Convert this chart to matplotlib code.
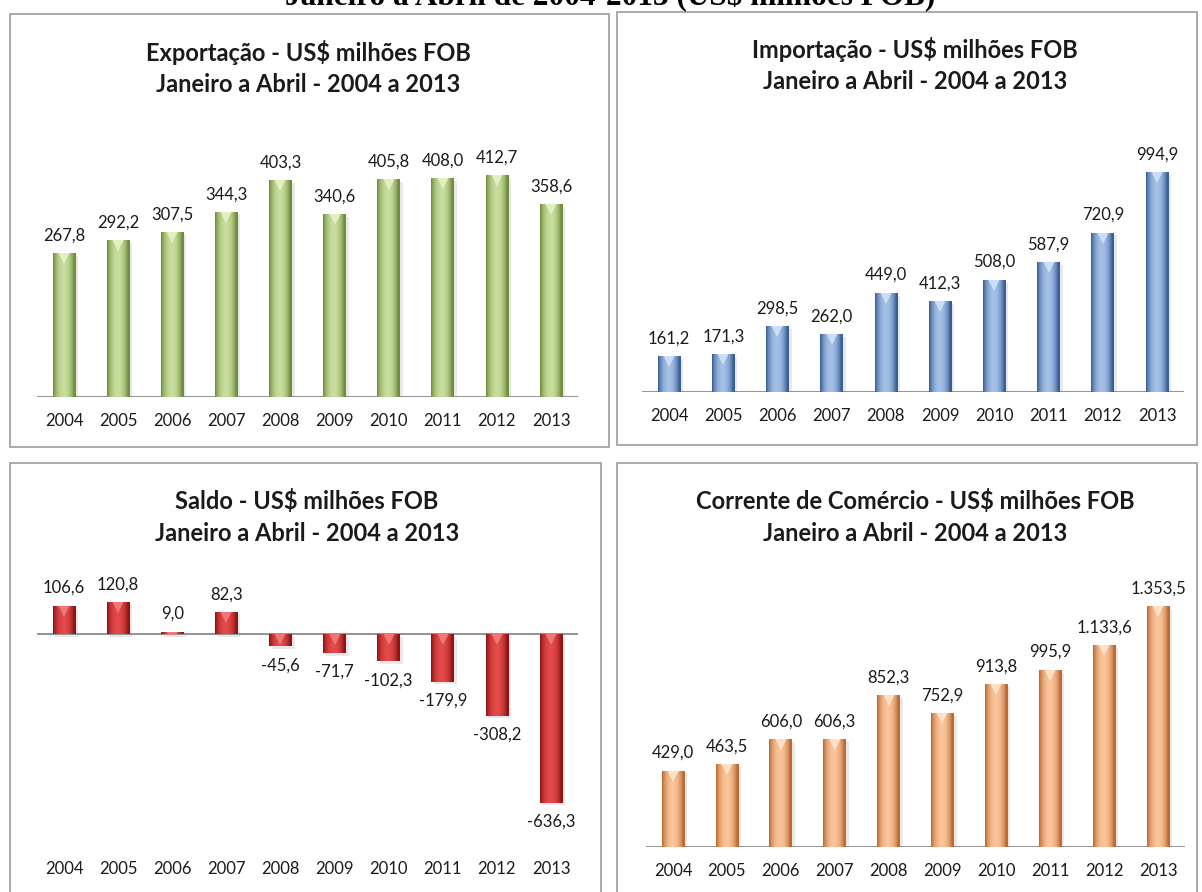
import numpy as np
import matplotlib
matplotlib.use("Agg")
import matplotlib.pyplot as plt
import matplotlib.patheffects as pe
from matplotlib.patches import Rectangle
from matplotlib.transforms import ScaledTranslation
from matplotlib.colors import to_rgb

W, H = 1202, 892
DPI = 100

years = ["2004", "2005", "2006", "2007", "2008", "2009", "2010", "2011", "2012", "2013"]
exportacao = [267.8, 292.2, 307.5, 344.3, 403.3, 340.6, 405.8, 408.0, 412.7, 358.6]
importacao = [161.2, 171.3, 298.5, 262.0, 449.0, 412.3, 508.0, 587.9, 720.9, 994.9]
saldo = [106.6, 120.8, 9.0, 82.3, -45.6, -71.7, -102.3, -179.9, -308.2, -636.3]
corrente = [429.0, 463.5, 606.0, 606.3, 852.3, 752.9, 913.8, 995.9, 1133.6, 1353.5]

titles = [
    "Exportação - US$ milhões FOB\nJaneiro a Abril - 2004 a 2013",
    "Importação - US$ milhões FOB\nJaneiro a Abril - 2004 a 2013",
    "Saldo - US$ milhões FOB\nJaneiro a Abril - 2004 a 2013",
    "Corrente de Comércio - US$ milhões FOB\nJaneiro a Abril - 2004 a 2013",
]
main_title = "Janeiro a Abril de 2004-2013 (US$ milhões FOB)"

FONT = "Lato"


def fmt(v):
    s = f"{abs(v):,.1f}"
    s = s.replace(",", "X").replace(".", ",").replace("X", ".")
    return ("-" if v < 0 else "") + s


fig = plt.figure(figsize=(W / DPI, H / DPI), dpi=DPI)
fig.patch.set_facecolor("white")


def fx(px):
    return px / W


def fy(py):
    return 1 - py / H


def panel(rect, title, title_x, title_y, c0, c9, base_y, scale, bottom_y, top_y,
          values, dark, light, tri):
    x0, y0, x1, y1 = rect
    fig.add_artist(Rectangle((fx(x0), fy(y1)), fx(x1 - x0), (y1 - y0) / H,
                             transform=fig.transFigure, fill=False,
                             ec="#9c9c9c", lw=1.2))
    fig.text(fx(title_x), fy(title_y), title, ha="center",
             va="center", fontsize=17, fontweight="bold", family=FONT,
             color="#1a1a1a", linespacing=1.45)
    s = (c9 - c0) / 9
    left = c0 - s / 2
    right = c9 + s / 2
    ax = fig.add_axes([fx(left), fy(bottom_y), fx(right - left),
                       (bottom_y - top_y) / H])
    ymin = -(bottom_y - base_y) / scale
    ymax = (base_y - top_y) / scale
    ax.set_axis_off()
    x = np.arange(len(values))
    bw = 0.42
    bars = ax.bar(x, values, width=bw, color=dark, zorder=2,
                  path_effects=[pe.SimplePatchShadow(offset=(2, -2),
                                                     shadow_rgbFace="#999999",
                                                     alpha=0.22),
                                pe.Normal()])
    # cylindrical gradient
    t = np.linspace(0, 1, 64)
    f = np.clip(np.sin(np.pi * np.clip((t - 0.02) / 0.9, 0, 1)) ** 0.7, 0, 1)
    d = np.array(to_rgb(dark))
    l = np.array(to_rgb(light))
    grad = (d[None, :] + (l - d)[None, :] * f[:, None])[None, :, :]
    off = ax.transData + ScaledTranslation(0, -5 / DPI, fig.dpi_scale_trans)
    for xi, v, b in zip(x, values, bars):
        lo, hi = min(0, v), max(0, v)
        im = ax.imshow(grad, extent=(xi - bw / 2, xi + bw / 2, lo, hi),
                       aspect="auto", zorder=3, interpolation="bilinear")
        im.set_clip_path(b)
        m, = ax.plot([xi], [hi], marker="v", markersize=9, color=tri,
                     markeredgewidth=0, linestyle="none", transform=off,
                     zorder=4, alpha=0.95)
        m.set_clip_path(b)
    ax.axhline(0, color="#8a8a8a", lw=1.3, zorder=1)
    for xi, v in zip(x, values):
        if v >= 0:
            ax.annotate(fmt(v), (xi, v), xytext=(0, 7), textcoords="offset points",
                        ha="center", va="bottom", fontsize=12, family=FONT,
                        color="#1a1a1a")
        else:
            ax.annotate(fmt(v), (xi, v), xytext=(0, -8), textcoords="offset points",
                        ha="center", va="top", fontsize=12, family=FONT,
                        color="#1a1a1a")
    ax.set_xlim(-0.5, 9.5)
    ax.set_ylim(ymin, ymax)
    for xi, yl in zip(x, years):
        ax.annotate(yl, (xi, ymin), xytext=(0, -17.5), textcoords="offset points",
                    xycoords="data", ha="center", va="center", fontsize=12,
                    family=FONT, color="#1a1a1a", annotation_clip=False)
    return ax


panel((10, 14, 609, 447), titles[0], 308, 68, 64, 551, 397, 0.537, 397, 130,
      exportacao, "#6f8d3a", "#c8de9e", "#e4f2c4")
panel((617, 12, 1197, 445), titles[1], 915, 65, 669, 1157, 392, 0.221, 392, 130,
      importacao, "#385f96", "#a4c0e6", "#cfe0f6")
panel((10, 463, 601, 905), titles[2], 307, 517, 64, 551, 634, 0.265, 845, 580,
      saldo, "#8e1414", "#e44a4a", "#f07a7a")
panel((617, 463, 1197, 905), titles[3], 915, 517, 673, 1158, 847, 0.178, 847, 580,
      corrente, "#bb6a32", "#fcc49a", "#fee2c8")

fig.text(fx(610), fy(5), main_title, ha="center", va="baseline",
         fontsize=22.5, fontweight="bold", family="Liberation Serif", color="black")

fig.savefig("out.png", dpi=DPI)
